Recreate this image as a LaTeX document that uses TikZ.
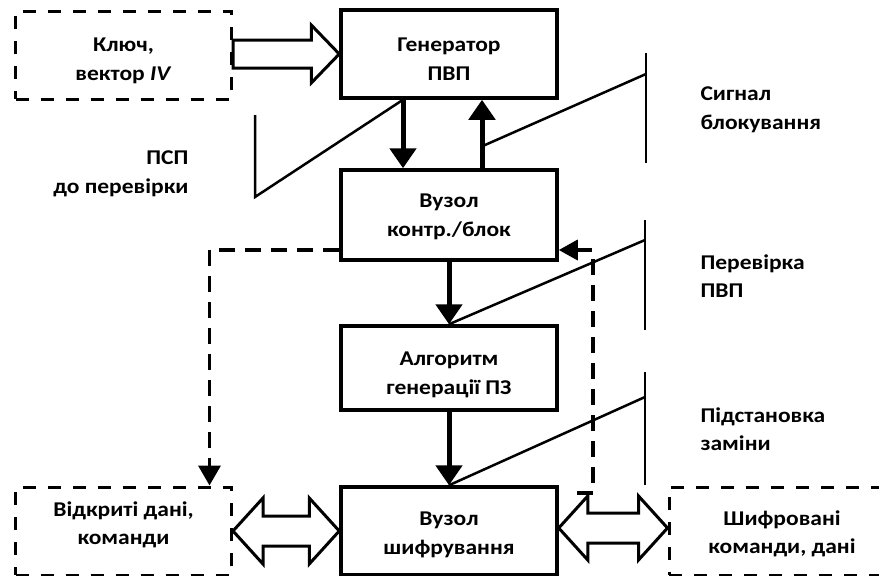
\documentclass[tikz,border=0pt]{standalone}
\usepackage{fontspec}
\setmainfont[FakeStretch=1.12]{Carlito}
\usetikzlibrary{arrows.meta,calc}
\newcommand\hollowdbl[5]{% tipL, tipR, head length, head half, shaft half
  \draw[hollow] (#1) -- ($(#1)+(#3,-#4)$) -- ($(#1)+(#3,-#5)$) -- ($(#2)+(-#3,-#5)$) -- ($(#2)+(-#3,-#4)$) -- (#2)
    -- ($(#2)+(-#3,#4)$) -- ($(#2)+(-#3,#5)$) -- ($(#1)+(#3,#5)$) -- ($(#1)+(#3,#4)$) -- cycle;}
\begin{document}
\begin{tikzpicture}[x=1pt,y=-1pt,
  every node/.style={font=\bfseries\fontsize{21}{28.5}\selectfont},
  box/.style={draw, line width=3.5pt, align=center, inner sep=0pt, minimum width=216pt, minimum height=88pt},
  dbox/.style={box, line width=3pt, dash pattern=on 13pt off 12pt},
  tx/.style 2 args={label={[align=center, yshift=#1]center:#2}},
  lbl/.style={align=left, anchor=west},
  fat/.style={line width=5pt, -{Triangle[width=26pt,length=20pt]}},
  sig/.style={line width=2.5pt},
  hollow/.style={line width=3pt, fill=white, line join=miter},
  dline/.style={line width=3.5pt, dash pattern=on 16pt off 10pt, -{Triangle[width=22pt,length=20pt]}}
]
\useasboundingbox (0,0) rectangle (879,576);
\clip (0,0) rectangle (879,576);

% boxes
\node[dbox, tx={-6pt}{Ключ,\\вектор \textit{IV}}] (key) at (123.5,55) {};
\node[box, tx={-5pt}{Генератор\\ПВП}] (gen) at (449,54) {};
\node[box, minimum height=90pt, tx={-2pt}{Вузол\\контр./блок}] (ctl) at (449,215) {};
\node[box, minimum height=84pt, tx={-7pt}{Алгоритм\\генерації ПЗ}] (alg) at (449,368) {};
\node[box, tx={-4pt}{Вузол\\шифрування}] (enc) at (449,531) {};
\node[dbox, tx={6pt}{Відкриті дані,\\команди}] (open) at (123.5,531) {};
\node[dbox, minimum width=226pt, tx={-3pt}{Шифровані\\команди, дані}] (ciph) at (782,531) {};

% labels
\node[anchor=east, align=right] (psp) at (192,174) {ПСП\\до перевірки};
\node[lbl] (sigl) at (697,110) {Сигнал\\блокування};
\node[lbl] (chk) at (697,276) {Перевірка\\ПВП};
\node[lbl] (sub) at (697,429) {Підстановка\\заміни};

% hollow arrow key -> gen
\coordinate (kA) at (key.east |- gen.west);
\draw[hollow] ($(kA)+(0,-14)$) -- ($(gen.west)+(-28,-14)$) -- ($(gen.west)+(-28,-29)$) -- (gen.west)
  -- ($(gen.west)+(-28,29)$) -- ($(gen.west)+(-28,14)$) -- ($(kA)+(0,14)$) -- cycle;

% hollow double arrows
\hollowdbl{open.east}{enc.west}{30}{33}{15}
\coordinate (eR) at ([yshift=3pt]enc.east);
\coordinate (cL) at ([yshift=3pt]ciph.west);
\hollowdbl{eR}{cL}{29}{32}{15}

% fat arrows
\coordinate (gD) at ([xshift=-46pt]gen.south);
\coordinate (gU) at ([xshift=33pt]gen.south);
\draw[fat] (gD) -- ([xshift=-46pt]ctl.north);
\draw[fat] ([xshift=33pt]ctl.north) -- (gU);
\draw[fat] (ctl.south) -- (alg.north);
\draw[fat] (alg.south) -- (enc.north);

% signal lines
\coordinate (pspT) at (255,115);
\coordinate (pspB) at (255,197);
\draw[sig] (pspT) -- (pspB) -- (gD);
\coordinate (sbT) at (646,53);
\coordinate (sbB) at (646,163);
\coordinate (sbM) at (646,74);
\draw[sig] (sbT) -- (sbB);
\draw[sig] (sbM) -- ($([xshift=33pt]ctl.north)!0.32!(gU)$);
\coordinate (ckT) at (645,220);
\coordinate (ckB) at (645,330);
\coordinate (ckM) at (645,240);
\draw[sig] (ckT) -- (ckB);
\draw[sig] (ckM) -- (alg.north);
\coordinate (sbT2) at (645,372);
\coordinate (sbB2) at (645,485);
\coordinate (sbM2) at (645,397);
\draw[sig] (sbT2) -- (sbB2);
\draw[sig] (sbM2) -- (enc.north);

% dashed feedback lines
\draw[dline] ([yshift=-35pt]ctl.west) -| ([xshift=86pt]open.north);
\coordinate (rS) at (577,493);
\draw[dline, -{Triangle[width=20pt,length=19pt]}] (rS) -- (593,493) -- (593,250) -- ([yshift=-35pt]ctl.east);
\end{tikzpicture}
\end{document}
